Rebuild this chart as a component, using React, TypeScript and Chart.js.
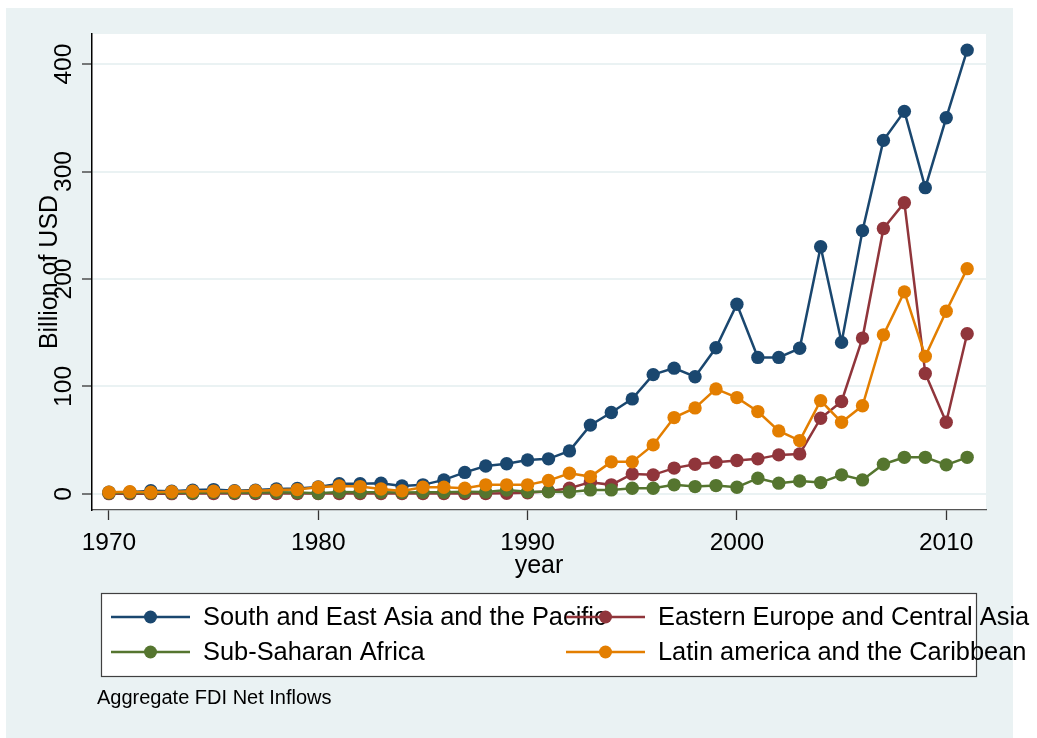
import React, { useEffect, useRef } from "react";
import { Chart, registerables } from "chart.js";

Chart.register(...registerables);

const years = [
  1970, 1971, 1972, 1973, 1974, 1975, 1976, 1977, 1978, 1979,
  1980, 1981, 1982, 1983, 1984, 1985, 1986, 1987, 1988, 1989,
  1990, 1991, 1992, 1993, 1994, 1995, 1996, 1997, 1998, 1999,
  2000, 2001, 2002, 2003, 2004, 2005, 2006, 2007, 2008, 2009,
  2010, 2011,
];

const southEastAsia = [
  1.5, 1.5, 3, 2.5, 3.5, 4, 3, 3.5, 4.5, 5,
  6.5, 9.5, 9.5, 10, 7.4, 8.4, 13, 20, 26, 28,
  31.6, 32.6, 40, 64, 75.7, 88.4, 111, 117, 109, 136,
  176.5, 127, 127, 135.5, 230, 141, 245, 329, 356, 285,
  350, 413,
];

const easternEurope = [
  0.2, 0.2, 0.2, 0.2, 0.3, 0.3, 0.3, 0.3, 0.3, 0.3,
  0.3, 0.3, 0.3, 0.3, 0.3, 0.3, 0.4, 0.4, 0.4, 0.5,
  1, 2.5, 5.3, 10.9, 8.4, 18.6, 17.7, 24, 27.6, 29.5,
  31, 32.6, 36.3, 37.2, 70.4, 86, 145, 247, 271, 112,
  66.7, 149,
];

const subSaharan = [
  0.8, 1, 0.8, 1, 0.9, 1.5, 1, 1.2, 1.5, 1.2,
  0.5, 1.8, 1.5, 1.5, 1.3, 1.5, 1.5, 2, 1.7, 3.5,
  2, 2, 1.8, 3.7, 3.7, 5.3, 5.3, 8.4, 6.8, 7.7,
  6.2, 14.6, 10, 12, 10.5, 17.7, 13, 27.6, 34, 34,
  27, 34,
];

const latinAmerica = [
  1.5, 2, 1.5, 2, 2.5, 2.5, 2.5, 3, 3.5, 4,
  6.2, 7.4, 6.8, 4.6, 2.8, 6.2, 6.2, 5.3, 8.4, 8.4,
  8.4, 12.4, 19.2, 16.1, 29.8, 29.8, 45.6, 71, 80, 97.7,
  89.6, 76.6, 58.6, 49.6, 86.8, 66.7, 82, 148, 188, 128,
  170, 209.6,
];

const seriesNames = [
  "South and East Asia and the Pacific",
  "Eastern Europe and Central Asia",
  "Sub-Saharan Africa",
  "Latin america and the Caribbean",
];
const seriesColors = ["#1A476F", "#90353B", "#55752F", "#E37E00"];

const yTickValues = [0, 100, 200, 300, 400];
const xTickValues = [1970, 1980, 1990, 2000, 2010];

const yTitle = "Billion of USD";
const xTitle = "year";
const noteText = "Aggregate FDI Net Inflows";

const BG = "#EAF2F3";
const FONT = '"Liberation Sans", Arial, Helvetica, sans-serif';

const decorPlugin = {
  id: "stataDecor",
  beforeDraw(chart: any) {
    const { ctx, chartArea: a } = chart;
    ctx.save();
    ctx.fillStyle = "#ffffff";
    ctx.fillRect(0, 0, chart.width, chart.height);
    ctx.fillStyle = BG;
    ctx.fillRect(6, 8, 1007, 730);
    ctx.fillStyle = "#ffffff";
    ctx.fillRect(a.left, a.top, a.right - a.left, a.bottom - a.top);
    ctx.restore();
  },
  afterDraw(chart: any) {
    const { ctx, chartArea: a } = chart;
    const ys = chart.scales.y;
    const xs = chart.scales.x;
    ctx.save();
    ctx.fillStyle = "#000000";
    ctx.font = `24.5px ${FONT}`;
    // y tick labels (rotated)
    ys.ticks.forEach((t: any) => {
      const py = ys.getPixelForValue(t.value);
      ctx.save();
      ctx.translate(a.left - 21.5, py);
      ctx.rotate(-Math.PI / 2);
      ctx.textAlign = "center";
      ctx.textBaseline = "alphabetic";
      ctx.fillText(String(t.value), 0, 0);
      ctx.restore();
    });
    // x tick labels
    ctx.textAlign = "center";
    ctx.textBaseline = "alphabetic";
    xs.ticks.forEach((t: any) => {
      const px = xs.getPixelForValue(t.value);
      ctx.fillText(String(t.value), px, a.bottom + 40);
    });
    // titles
    ctx.font = `25px ${FONT}`;
    ctx.fillText(xTitle, (a.left + a.right) / 2, a.bottom + 63);
    ctx.save();
    ctx.translate(a.left - 35.5, (a.top + a.bottom) / 2);
    ctx.rotate(-Math.PI / 2);
    ctx.textAlign = "center";
    ctx.fillText(yTitle, 0, 0);
    ctx.restore();

    // legend box
    const bx = 101, by = 593, bw = 875, bh = 83;
    ctx.fillStyle = "#ffffff";
    ctx.fillRect(bx, by, bw, bh);
    ctx.strokeStyle = "#404040";
    ctx.lineWidth = 1.2;
    ctx.strokeRect(bx + 0.5, by + 0.5, bw, bh);
    const rows = [617, 652];
    const cols = [111, 566];
    ctx.font = `25.4px ${FONT}`;
    ctx.textAlign = "left";
    ctx.textBaseline = "middle";
    for (let i = 0; i < seriesNames.length; i++) {
      const cx = cols[i % 2];
      const cy = rows[Math.floor(i / 2)];
      ctx.strokeStyle = seriesColors[i];
      ctx.lineWidth = 2.5;
      ctx.beginPath();
      ctx.moveTo(cx, cy);
      ctx.lineTo(cx + 79, cy);
      ctx.stroke();
      ctx.fillStyle = seriesColors[i];
      ctx.beginPath();
      ctx.arc(cx + 39.5, cy, 6.5, 0, Math.PI * 2);
      ctx.fill();
      ctx.fillStyle = "#000000";
      ctx.fillText(seriesNames[i], cx + 92, cy + 1);
    }
    // note
    ctx.font = `20px ${FONT}`;
    ctx.textBaseline = "alphabetic";
    ctx.fillText(noteText, 97, 704);
    ctx.restore();
  },
};

export default function App() {
  const canvasRef = useRef<HTMLCanvasElement | null>(null);

  useEffect(() => {
    document.body.style.margin = "0";
    document.body.style.overflow = "hidden";
    const canvas = canvasRef.current;
    if (!canvas) return;
    const allSeries = [southEastAsia, easternEurope, subSaharan, latinAmerica];
    const chart = new Chart(canvas, {
      type: "line",
      data: {
        datasets: allSeries.map((vals, i) => ({
          label: seriesNames[i],
          data: years.map((yr, j) => ({ x: yr, y: vals[j] })),
          borderColor: seriesColors[i],
          backgroundColor: seriesColors[i],
          pointBackgroundColor: seriesColors[i],
          pointBorderColor: seriesColors[i],
          pointBorderWidth: 0,
          pointRadius: 6.7,
          borderWidth: 2.5,
          tension: 0,
          fill: false,
          order: allSeries.length - i,
        })),
      },
      options: {
        responsive: false,
        animation: false,
        devicePixelRatio: 1,
        layout: { padding: { left: 0, right: 51, top: 34, bottom: 0 } },
        plugins: {
          legend: { display: false },
          tooltip: { enabled: false },
          title: { display: false },
        },
        scales: {
          x: {
            type: "linear",
            min: 1969.19,
            max: 2011.9,
            afterBuildTicks: (scale: any) => {
              scale.ticks = xTickValues.map((v) => ({ value: v }));
            },
            afterFit: (scale: any) => {
              scale.height = 228;
            },
            ticks: { display: false },
            grid: {
              drawOnChartArea: false,
              drawTicks: true,
              tickLength: 10,
              tickColor: "#333333",
              tickWidth: 1.3,
            },
            border: { display: true, color: "#555555", width: 1.3 },
          },
          y: {
            type: "linear",
            min: -15,
            max: 428,
            afterBuildTicks: (scale: any) => {
              scale.ticks = yTickValues.map((v) => ({ value: v }));
            },
            afterFit: (scale: any) => {
              scale.width = 92;
            },
            ticks: { display: false },
            grid: {
              color: BG,
              lineWidth: 2,
              drawTicks: true,
              tickLength: 10,
              tickColor: "#333333",
              tickWidth: 1.3,
            },
            border: { display: true, color: "#000000", width: 1.5 },
          },
        },
      },
      plugins: [decorPlugin],
    });
    return () => chart.destroy();
  }, []);

  return (
    <canvas
      ref={canvasRef}
      width={1037}
      height={738}
      style={{ display: "block", width: 1037, height: 738 }}
    />
  );
}
